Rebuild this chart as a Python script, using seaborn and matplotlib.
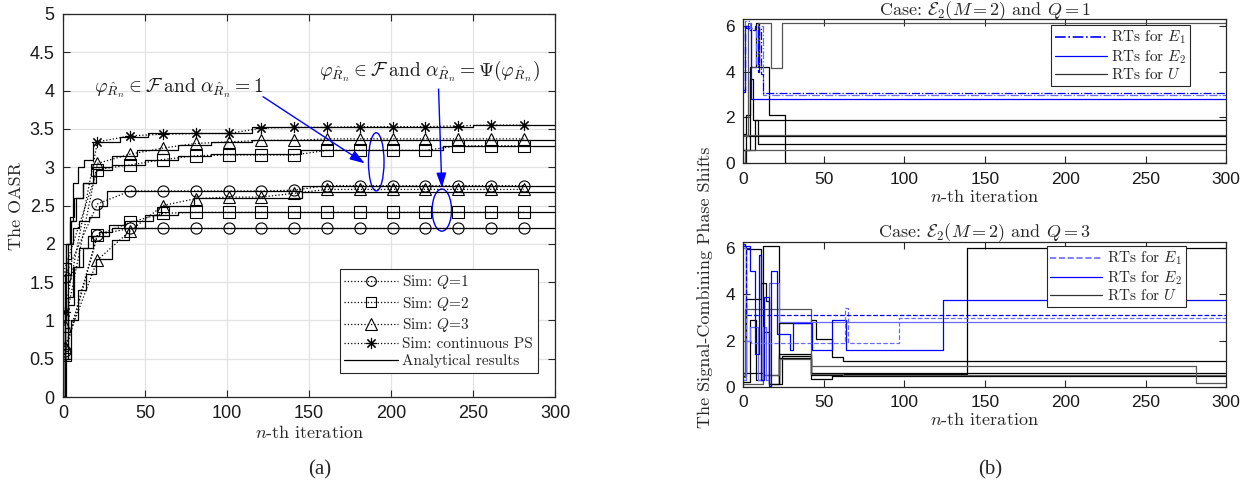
import numpy as np
import pandas as pd
import seaborn as sns
import matplotlib
matplotlib.use("Agg")
import matplotlib.pyplot as plt
from matplotlib.lines import Line2D
from matplotlib.patches import Ellipse

# ---------------- data: panel (a) ----------------
mark_x = [1, 21, 41, 61, 81, 101, 121, 141, 161, 181, 201, 221, 241, 261, 281]
sim_q1_a = [1.57, 2.52, 2.69, 2.69, 2.69, 2.69, 2.69, 2.70, 2.76, 2.76, 2.76, 2.76, 2.76, 2.76, 2.76]
sim_q1_b = [0.60, 2.12, 2.20, 2.20, 2.20, 2.20, 2.20, 2.20, 2.20, 2.20, 2.20, 2.20, 2.20, 2.20, 2.20]
sim_q2_a = [1.67, 2.97, 3.03, 3.10, 3.15, 3.16, 3.16, 3.16, 3.22, 3.22, 3.22, 3.22, 3.28, 3.28, 3.28]
sim_q2_b = [0.55, 2.11, 2.28, 2.40, 2.41, 2.41, 2.41, 2.41, 2.41, 2.41, 2.41, 2.41, 2.41, 2.41, 2.41]
sim_q3_a = [0.93, 3.05, 3.17, 3.25, 3.31, 3.33, 3.35, 3.35, 3.37, 3.37, 3.37, 3.37, 3.37, 3.37, 3.37]
sim_q3_b = [0.65, 1.79, 2.17, 2.50, 2.59, 2.61, 2.61, 2.66, 2.71, 2.71, 2.71, 2.71, 2.71, 2.71, 2.71]
sim_cont = [1.11, 3.33, 3.41, 3.43, 3.44, 3.44, 3.51, 3.52, 3.52, 3.53, 3.53, 3.53, 3.54, 3.55, 3.55]

ana_cont_x = [0, 1, 2, 4, 6, 9, 13, 18, 35, 52, 95, 115, 160, 250, 300]
ana_cont_y = [0, 1.0, 2.0, 2.3, 2.8, 3.0, 3.1, 3.33, 3.40, 3.44, 3.45, 3.52, 3.53, 3.55, 3.55]
ana_q3a_x = [0, 1, 3, 5, 8, 12, 18, 30, 45, 70, 90, 115, 160, 300]
ana_q3a_y = [0, 0.9, 1.8, 2.3, 2.6, 2.8, 3.0, 3.15, 3.22, 3.29, 3.33, 3.35, 3.36, 3.36]
ana_q2a_x = [0, 1, 2, 4, 7, 12, 20, 30, 50, 70, 90, 145, 232, 300]
ana_q2a_y = [0, 1.6, 2.0, 2.35, 2.6, 2.8, 2.97, 3.03, 3.10, 3.15, 3.17, 3.22, 3.28, 3.28]
ana_q1a_x = [0, 1, 3, 6, 10, 16, 22, 27, 146, 300]
ana_q1a_y = [0, 1.5, 2.0, 2.2, 2.3, 2.35, 2.5, 2.69, 2.75, 2.75]
ana_q3b_x = [0, 2, 5, 9, 14, 20, 30, 40, 50, 60, 80, 146, 300]
ana_q3b_y = [0, 0.5, 1.0, 1.4, 1.6, 1.8, 2.05, 2.2, 2.38, 2.5, 2.6, 2.67, 2.67]
ana_q2b_x = [0, 1, 3, 7, 12, 18, 28, 38, 55, 70, 300]
ana_q2b_y = [0, 0.5, 1.2, 1.7, 1.95, 2.1, 2.25, 2.3, 2.38, 2.41, 2.41]
ana_q1b_x = [0, 1, 3, 6, 10, 15, 22, 30, 300]
ana_q1b_y = [0, 0.6, 1.3, 1.7, 1.95, 2.1, 2.15, 2.2, 2.2]

# ---------------- data: panel (b), Q = 1 ----------------
t_e1a_x = [0, 1, 3, 7, 9, 10, 11, 12, 300]
t_e1a_y = [3.1, 6.0, 5.8, 6.0, 4.0, 5.9, 3.9, 3.07, 3.07]
t_e1b_x = [0, 1, 4, 8, 10, 12, 300]
t_e1b_y = [3.1, 6.2, 5.9, 4.3, 6.0, 2.98, 2.98]
t_e2_x = [0, 1, 2, 5, 300]
t_e2_y = [3.2, 6.0, 5.9, 2.79, 2.79]
t_u1_x = [0, 2, 4, 8, 10, 16, 26, 300]
t_u1_y = [0.0, 2.1, 4.2, 6.1, 4.2, 2.1, 0.0, 0.0]
t_u2_x = [0, 3, 5, 9, 12, 17, 24, 300]
t_u2_y = [1.2, 6.1, 4.2, 6.1, 6.1, 4.15, 6.1, 6.1]
t_u3_x = [0, 4, 6, 300]
t_u3_y = [0.6, 3.7, 1.89, 1.89]
t_u4_x = [0, 1, 300]
t_u4_y = [1.25, 1.23, 1.23]
t_u5_x = [0, 2, 300]
t_u5_y = [1.3, 1.17, 1.17]
t_u6_x = [0, 7, 9, 300]
t_u6_y = [0.6, 1.9, 0.86, 0.86]
t_u7_x = [0, 1, 300]
t_u7_y = [0.0, 0.57, 0.57]

# ---------------- data: panel (b), Q = 3 ----------------
b_e1a_x = [0, 2, 300]
b_e1a_y = [6.1, 3.1, 3.1]
b_e1b_x = [0, 2, 5, 62, 63, 65, 97, 300]
b_e1b_y = [6.0, 2.0, 1.9, 1.9, 3.4, 1.9, 2.97, 2.97]
b_e2a_x = [0, 1, 4, 7, 10, 11, 13, 16, 17, 21, 29, 31, 43, 55, 62, 64, 124, 300]
b_e2a_y = [6.2, 6.1, 5.0, 1.4, 5.7, 0.3, 3.9, 0.05, 5.0, 2.3, 1.6, 2.75, 1.6, 2.9, 2.9, 1.6, 3.76, 3.76]
b_e2b_x = [0, 2, 4, 9, 12, 14, 16, 22, 300]
b_e2b_y = [0.3, 2.0, 2.6, 0.3, 2.6, 0.3, 4.5, 2.8, 2.8]
b_u1_x = [0, 2, 11, 12, 22, 24, 42, 44, 55, 62, 139, 300]
b_u1_y = [0.45, 5.95, 0.3, 6.1, 0.1, 1.35, 0.35, 0.35, 0.5, 0.55, 6.0, 6.0]
b_u2_x = [0, 2, 10, 11, 14, 16, 22, 42, 45, 55, 62, 300]
b_u2_y = [0.6, 3.8, 3.8, 4.5, 3.7, 0.1, 2.75, 2.9, 2.05, 1.3, 1.1, 1.1]
b_u3_x = [0, 1, 22, 42, 281, 300]
b_u3_y = [0.4, 3.35, 3.35, 0.91, 0.15, 0.15]
b_u4_x = [0, 4, 8, 12, 16, 22, 42, 55, 62, 300]
b_u4_y = [0.2, 2.9, 0.3, 2.35, 0.1, 1.4, 0.5, 0.45, 0.61, 0.61]
b_u5_x = [0, 1, 12, 22, 42, 62, 300]
b_u5_y = [0.45, 0.6, 0.5, 1.25, 0.6, 0.46, 0.46]
b_u6_x = [0, 12, 22, 42, 55, 62, 300]
b_u6_y = [0.1, 0.5, 1.2, 0.55, 0.55, 0.5, 0.5]

# ---------------- style ----------------
sns.set_style("ticks")
plt.rcParams["mathtext.fontset"] = "cm"
plt.rcParams["font.family"] = ["Liberation Sans", "DejaVu Sans"]
plt.rcParams["axes.unicode_minus"] = False
TXT = "cmr10"
SPINE = "#262626"

fig = plt.figure(figsize=(12.5, 4.91), dpi=100)
axA = fig.add_axes([0.0504, 0.1914, 0.3936, 0.7801])
axT = fig.add_axes([0.5946, 0.6674, 0.3863, 0.2933])
axB = fig.add_axes([0.5946, 0.2124, 0.3863, 0.2953])


def style_axes(ax, fs):
    for s in ax.spines.values():
        s.set_visible(True)
        s.set_color(SPINE)
        s.set_linewidth(0.9)
    ax.tick_params(direction="in", top=True, right=True, length=5, width=0.8,
                   labelsize=fs, colors=SPINE, labelcolor="#1a1a1a", pad=6)


def step(ax, x, y, **kw):
    sns.lineplot(x=x, y=y, ax=ax, estimator=None, sort=False, legend=False,
                 drawstyle="steps-post", **kw)


# ---------------- panel (a) ----------------
for xs, ys in [(ana_cont_x, ana_cont_y), (ana_q3a_x, ana_q3a_y), (ana_q2a_x, ana_q2a_y),
               (ana_q1a_x, ana_q1a_y), (ana_q3b_x, ana_q3b_y), (ana_q2b_x, ana_q2b_y),
               (ana_q1b_x, ana_q1b_y)]:
    step(axA, xs, ys, color="black", linewidth=0.9)

star = (8, 2, 0)
for ys, mk in [(sim_q1_a, "o"), (sim_q1_b, "o"), (sim_q2_a, "s"), (sim_q2_b, "s"),
               (sim_q3_a, "^"), (sim_q3_b, "^"), (sim_cont, star)]:
    sns.lineplot(x=mark_x, y=ys, ax=axA, estimator=None, sort=False, legend=False,
                 color="black", linestyle=":", linewidth=0.9, marker=mk,
                 markersize=9 if mk == "^" else 8, markerfacecolor="none",
                 markeredgecolor="black", markeredgewidth=0.8)

axA.set_xlim(0, 300)
axA.set_ylim(0, 5)
axA.set_xticks(np.arange(0, 301, 50))
axA.set_yticks(np.arange(0, 5.01, 0.5))
axA.set_yticklabels(["0", "0.5", "1", "1.5", "2", "2.5", "3", "3.5", "4", "4.5", "5"])
axA.grid(True, color="#e3e3e3", linewidth=0.9)
axA.set_axisbelow(True)
style_axes(axA, 13)
axA.set_xlabel(r"$n$-th iteration", fontfamily=TXT, fontsize=13, labelpad=1)
axA.set_ylabel("The OASR", fontfamily=TXT, fontsize=13, labelpad=4)

axA.text(19, 4.03, r"$\varphi_{\hat{R}_n}\in\mathcal{F}\;\mathrm{and}\;\alpha_{\hat{R}_n}=1$",
         fontsize=14, color="#1a1a1a", va="center", ha="left")
axA.text(156, 4.25, r"$\varphi_{\hat{R}_n}\in\mathcal{F}\;\mathrm{and}\;\alpha_{\hat{R}_n}=\Psi(\varphi_{\hat{R}_n})$",
         fontsize=14, color="#1a1a1a", va="center", ha="left")
arrow_kw = dict(arrowstyle="-|>,head_length=0.9,head_width=0.3", color="blue", lw=1.0,
                shrinkA=0, shrinkB=0)
axA.annotate("", xy=(184, 3.05), xytext=(122, 3.92), arrowprops=arrow_kw)
axA.annotate("", xy=(231, 2.73), xytext=(229, 4.02), arrowprops=arrow_kw)
axA.add_patch(Ellipse((191, 3.07), 9.5, 0.76, fill=False, edgecolor="blue", lw=1.0))
axA.add_patch(Ellipse((231, 2.44), 11.8, 0.55, fill=False, edgecolor="blue", lw=1.0))

legA = [
    Line2D([], [], color="black", ls=":", lw=0.9, marker="o", mfc="none", ms=7, mew=0.8),
    Line2D([], [], color="black", ls=":", lw=0.9, marker="s", mfc="none", ms=7, mew=0.8),
    Line2D([], [], color="black", ls=":", lw=0.9, marker="^", mfc="none", ms=8, mew=0.8),
    Line2D([], [], color="black", ls=":", lw=0.9, marker=star, ms=8, mew=0.8),
    Line2D([], [], color="black", ls="-", lw=0.9),
]
labA = [r"Sim: $Q$=1", r"Sim: $Q$=2", r"Sim: $Q$=3", "Sim: continuous PS", "Analytical results"]
lg = axA.legend(legA, labA, loc="lower right", bbox_to_anchor=(0.965, 0.063),
                borderaxespad=0, prop={"family": TXT, "size": 11}, frameon=True,
                fancybox=False, edgecolor=SPINE, framealpha=1, handlelength=3.5,
                handletextpad=0.3, labelspacing=0.22, borderpad=0.3)
lg.get_frame().set_linewidth(0.8)

# ---------------- panel (b) top ----------------
LB = "#6a6aff"
for xs, ys in [(t_u1_x, t_u1_y), (t_u3_x, t_u3_y), (t_u5_x, t_u5_y), (t_u6_x, t_u6_y)]:
    step(axT, xs, ys, color="black", linewidth=0.9)
for xs, ys in [(t_u2_x, t_u2_y), (t_u4_x, t_u4_y), (t_u7_x, t_u7_y)]:
    step(axT, xs, ys, color="#555555", linewidth=0.9)
step(axT, t_e2_x, t_e2_y, color="blue", linewidth=0.9)
step(axT, t_e1b_x, t_e1b_y, color=LB, linewidth=0.9, linestyle="-.")
step(axT, t_e1a_x, t_e1a_y, color="blue", linewidth=0.9, linestyle="-.")

# ---------------- panel (b) bottom ----------------
for xs, ys in [(b_u1_x, b_u1_y), (b_u2_x, b_u2_y), (b_u4_x, b_u4_y), (b_u5_x, b_u5_y)]:
    step(axB, xs, ys, color="black", linewidth=0.9)
for xs, ys in [(b_u3_x, b_u3_y), (b_u6_x, b_u6_y)]:
    step(axB, xs, ys, color="#555555", linewidth=0.9)
step(axB, b_e2b_x, b_e2b_y, color=LB, linewidth=0.9)
step(axB, b_e2a_x, b_e2a_y, color="blue", linewidth=0.9)
step(axB, b_e1b_x, b_e1b_y, color=LB, linewidth=0.9, linestyle="--")
step(axB, b_e1a_x, b_e1a_y, color="blue", linewidth=0.9, linestyle="--")

for ax, q, anchor, e1style in [(axT, 1, (0.925, 0.96), "-."), (axB, 3, (0.916, 0.97), "--")]:
    ax.set_xlim(0, 300)
    ax.set_ylim(0, 2 * np.pi)
    ax.set_xticks(np.arange(0, 301, 50))
    ax.set_yticks([0, 2, 4, 6])
    style_axes(ax, 12.5)
    ax.set_xlabel(r"$n$-th iteration", fontfamily=TXT, fontsize=13, labelpad=1)
    ax.set_title(r"Case: $\mathcal{E}_2(M=2)$ and $Q=%d$" % q, fontfamily=TXT,
                 fontsize=13, pad=3)
    hs = [Line2D([], [], color="blue" if ax is axT else LB, ls=e1style, lw=1.2),
          Line2D([], [], color="blue", ls="-", lw=0.9),
          Line2D([], [], color="#333333", ls="-", lw=0.9)]
    lb = [r"RTs for $E_1$", r"RTs for $E_2$", r"RTs for $U$"]
    l2 = ax.legend(hs, lb, loc="upper right", bbox_to_anchor=anchor, borderaxespad=0,
                   prop={"family": TXT, "size": 11}, frameon=True, fancybox=False,
                   edgecolor=SPINE, framealpha=1, handlelength=3.4, handletextpad=0.3,
                   labelspacing=0.1, borderpad=0.25)
    l2.get_frame().set_linewidth(0.8)

fig.text(0.564, 0.415, "The Signal-Combining Phase Shifts", rotation=90,
         fontfamily=TXT, fontsize=13, ha="center", va="center")

fig.text(0.256, 0.043, "(a)", fontfamily="Liberation Serif", fontsize=15, ha="center", va="center")
fig.text(0.792, 0.043, "(b)", fontfamily="Liberation Serif", fontsize=15, ha="center", va="center")

fig.savefig("out.png", dpi=100)
